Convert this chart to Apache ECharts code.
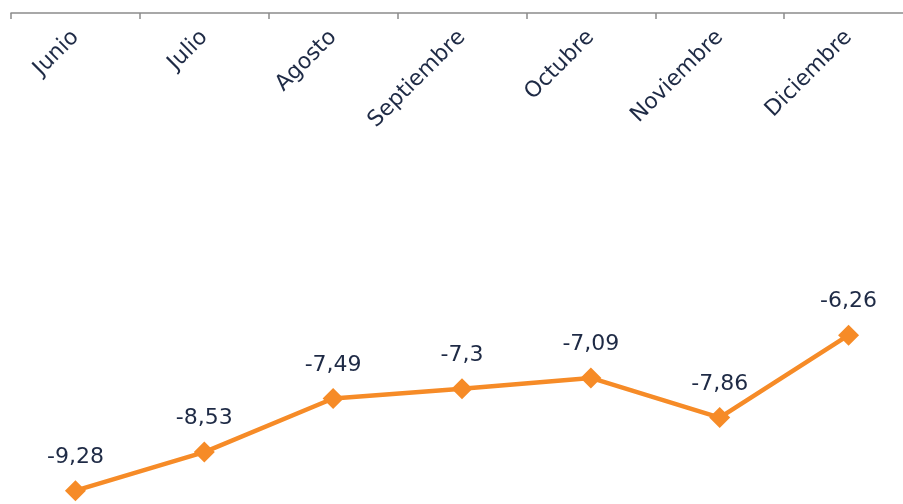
<!DOCTYPE html>
<html><head><meta charset="utf-8">
<script src="https://cdn.jsdelivr.net/npm/echarts@6/dist/echarts.min.js"></script>
<style>html,body{margin:0;padding:0;background:#fff;overflow:hidden;}#c{width:913px;height:504px;}</style>
</head><body><div id="c"></div>
<script>
const categories = ['Junio','Julio','Agosto','Septiembre','Octubre','Noviembre','Diciembre'];
const values = [-9.28, -8.53, -7.49, -7.3, -7.09, -7.86, -6.26];
const chart = echarts.init(document.getElementById('c'));
chart.setOption({
  animation: false,
  grid: {left: 11, right: 0, top: 13, bottom: 2},
  xAxis: {
    type: 'category', data: categories, position: 'top', boundaryGap: true,
    axisLine: {show: true, lineStyle: {color: '#8c8c8c', width: 1.5}},
    axisTick: {show: true, inside: true, length: 6, lineStyle: {color: '#8c8c8c', width: 1.5}},
    axisLabel: {inside: true, rotate: 45, margin: 21, color: '#1e2a45', fontSize: 22, fontFamily: 'DejaVu Sans'}
  },
  yAxis: {type: 'value', min: -9.5, max: 0, show: false, splitLine: {show: false}},
  series: [{
    type: 'line', data: values,
    symbol: 'diamond', symbolSize: 21,
    lineStyle: {color: '#F68B27', width: 4.5},
    itemStyle: {color: '#F68B27'},
    label: {show: true, position: 'top', distance: 12, color: '#1e2a45', fontSize: 22, fontFamily: 'DejaVu Sans',
      formatter: p => String(p.value).replace('.', ',')}
  }]
});
</script></body></html>
